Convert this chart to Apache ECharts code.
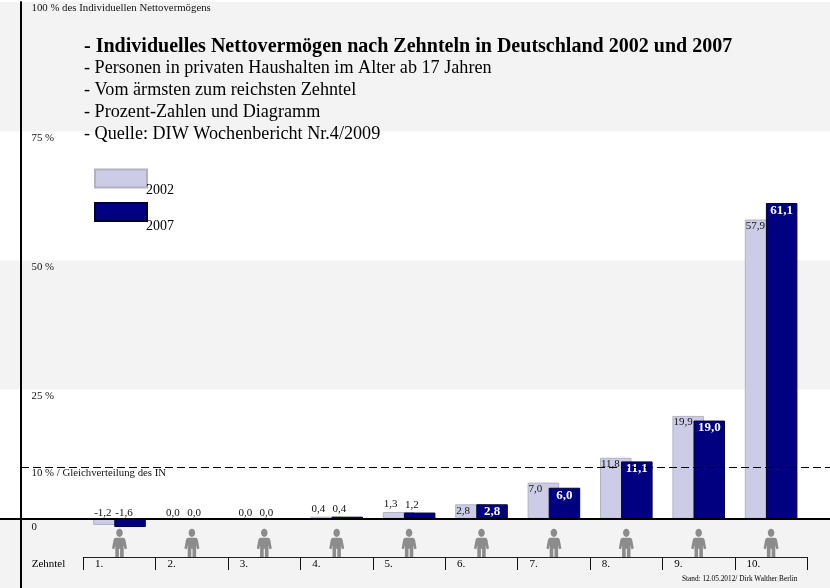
<!DOCTYPE html>
<html>
<head>
<meta charset="utf-8">
<title>Individuelles Nettovermögen</title>
<style>
html, body { margin: 0; padding: 0; background: #fff; }
#main { width: 830px; height: 588px; }
</style>
<script src="https://cdn.jsdelivr.net/npm/echarts@6/dist/echarts.min.js"></script>
</head>
<body>
<div id="main"></div>
<script>
var FONT = '"Liberation Serif", serif';

var categories = ['1.', '2.', '3.', '4.', '5.', '6.', '7.', '8.', '9.', '10.'];
var values2002 = [-1.2, 0, 0, 0.4, 1.3, 2.8, 7.0, 11.8, 19.9, 57.9];
var values2007 = [-1.6, 0, 0, 0.4, 1.2, 2.8, 6.0, 11.1, 19.0, 61.1];
var personRow = [-4.7, -4.7, -4.7, -4.7, -4.7, -4.7, -4.7, -4.7, -4.7, -4.7];

var tickValues = [0, 10, 25, 50, 75, 100];
var tickLabels = ['0', '10 % / Gleichverteilung des IN', '25 %', '50 %', '75 %', '100 % des Individuellen Nettovermögens'];
var greyBands = [[75, 100], [25, 50], [-13.4, 0]];
var equalShare = 10;

var titleLine = '- Individuelles Nettovermögen nach Zehnteln in Deutschland 2002 und 2007';
var subLines = [
    '- Personen in privaten Haushalten im Alter ab 17 Jahren',
    '- Vom ärmsten zum reichsten Zehntel',
    '- Prozent-Zahlen und Diagramm',
    '- Quelle: DIW Wochenbericht Nr.4/2009'
];
var standLine = 'Stand: 12.05.2012/ Dirk Walther Berlin';

var PERSON = 'path://M50,0 C62,0 72,9 72,21 C72,33 62,42 50,42 C38,42 28,33 28,21 C28,9 38,0 50,0 Z ' +
    'M26,46 L74,46 C84,46 88,52 90,60 L100,102 L84,106 L78,84 L78,148 L54,148 L54,104 L46,104 L46,148 L22,148 L22,84 L16,106 L0,102 L10,60 C12,52 16,46 26,46 Z';

function fmt(v) {
    return v.toFixed(1).replace('.', ',');
}

// small bars carry the number above them, bigger ones inside
function smallLabel(v) {
    return {
        show: true, position: [1, v > 0 ? -13 : -11], align: 'left', verticalAlign: 'top',
        fontFamily: FONT, fontSize: 11, color: '#111', formatter: fmt(v)
    };
}
function bar2002(v) {
    var label = smallLabel(v);
    if (v >= 2) label.position = [1, 1];
    return { value: v, label: label };
}
function bar2007(v) {
    return {
        value: v,
        label: v >= 2 ? {
            show: true, position: 'insideTop', distance: 1,
            fontFamily: FONT, fontSize: 13, fontWeight: 'bold', color: '#fff', formatter: fmt(v)
        } : smallLabel(v)
    };
}

var chart = echarts.init(document.getElementById('main'));
chart.setOption({
    animation: false,
    backgroundColor: '#fff',
    title: [{
        text: titleLine,
        subtext: subLines.join('\n'),
        left: 84, top: 36,
        padding: 0,
        itemGap: -1,
        textStyle: { fontFamily: FONT, fontSize: 20.05, fontWeight: 'bold', color: '#000', lineHeight: 22 },
        subtextStyle: { fontFamily: FONT, fontSize: 18.15, color: '#000', lineHeight: 22 }
    }, {
        text: standLine,
        left: 682, top: 576,
        padding: 0,
        textStyle: { fontFamily: FONT, fontSize: 7.3, fontWeight: 'normal', color: '#000' }
    }],
    legend: {
        data: ['2002', '2007'],
        orient: 'vertical',
        left: 94, top: 168.5,
        padding: 0,
        icon: 'rect',
        itemWidth: 52, itemHeight: 18,
        itemGap: 4.5,
        formatter: function (name) {
            return (name === '2002' ? '{a|' : '{b|') + name + '}';
        },
        textStyle: {
            rich: {
                a: { fontFamily: FONT, fontSize: 14, color: '#000', padding: [24, 0, 0, -6] },
                b: { fontFamily: FONT, fontSize: 14, color: '#000', padding: [29, 0, 0, -6] }
            }
        }
    },
    grid: [
        { left: 83.3, width: 724, top: 2, height: 586 },
        { left: 0, width: 830, top: 2, height: 586 }
    ],
    xAxis: [{
        type: 'category',
        gridIndex: 0,
        data: categories,
        position: 'bottom',
        offset: -31,
        z: 5,
        name: 'Zehntel',
        nameLocation: 'start',
        nameGap: 18,
        nameTextStyle: { fontFamily: FONT, fontSize: 11, color: '#000', verticalAlign: 'top', padding: [2, 0, 0, 0] },
        axisLine: { show: true, onZero: false, lineStyle: { color: '#222', width: 1 } },
        axisTick: { show: true, length: 13, inside: false, lineStyle: { color: '#111', width: 1 } },
        axisLabel: {
            show: true,
            margin: 2,
            interval: 0,
            formatter: function (v) { return '{a|' + v + '}'; },
            rich: { a: { width: 49, align: 'left', fontFamily: FONT, fontSize: 11, color: '#000' } }
        }
    }, {
        type: 'value',
        gridIndex: 1,
        min: 0, max: 830,
        z: 5,
        splitLine: { show: false },
        axisTick: { show: false },
        axisLabel: { show: false },
        axisLine: { onZero: true, lineStyle: { color: '#000', width: 2 } }
    }],
    yAxis: [{
        type: 'value',
        gridIndex: 0,
        min: -13.4, max: 100,
        show: false
    }, {
        type: 'value',
        gridIndex: 1,
        min: -13.4, max: 100,
        position: 'left',
        offset: -20.5,
        z: 5,
        splitLine: { show: false },
        axisTick: { show: false },
        axisLine: { show: true, lineStyle: { color: '#000', width: 2 } },
        axisLabel: {
            inside: true,
            margin: 11,
            verticalAlign: 'top',
            lineHeight: 13,
            fontFamily: FONT, fontSize: 10.8, color: '#111',
            customValues: tickValues,
            formatter: function (v) {
                var text = tickLabels[tickValues.indexOf(v)];
                return v === 0 ? '{z|' + text + '}' : text;
            },
            rich: { z: { padding: [4, 0, 0, 0], fontFamily: FONT, fontSize: 10.8, color: '#111' } }
        }
    }],
    series: [{
        name: 'bands',
        type: 'line',
        xAxisIndex: 1, yAxisIndex: 1,
        data: [],
        z: 0,
        silent: true,
        markArea: {
            silent: true,
            itemStyle: { color: '#f3f3f3' },
            data: greyBands.map(function (b) {
                return [{ yAxis: b[0] }, { yAxis: b[1] }];
            })
        }
    }, {
        name: '2002',
        type: 'bar',
        data: values2002.map(bar2002),
        barWidth: 31.5,
        barGap: '-33%',
        itemStyle: { color: '#ccccE6', borderColor: '#b2b2c2', borderWidth: 1 },
        z: 2
    }, {
        name: '2007',
        type: 'bar',
        data: values2007.map(bar2007),
        barWidth: 31.5,
        itemStyle: { color: '#000080', borderColor: '#000033', borderWidth: 1 },
        z: 3
    }, {
        name: 'person',
        type: 'scatter',
        data: personRow,
        symbol: PERSON,
        symbolSize: [15, 28.5],
        itemStyle: { color: '#8c8c8c', opacity: 1 },
        silent: true,
        z: 2
    }, {
        name: 'equal share',
        type: 'line',
        xAxisIndex: 1, yAxisIndex: 1,
        data: [],
        z: 6,
        silent: true,
        markLine: {
            silent: true,
            symbol: 'none',
            label: { show: false },
            lineStyle: { color: '#000', width: 1, type: [8, 4] },
            data: [[{ coord: [21, equalShare] }, { coord: [830, equalShare] }]]
        }
    }]
});
</script>
</body>
</html>
